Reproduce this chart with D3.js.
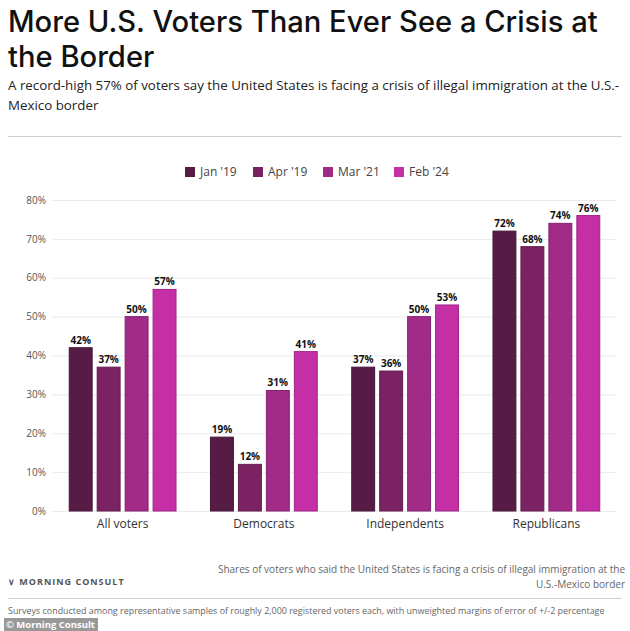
<!DOCTYPE html>
<html>
<head>
<meta charset="utf-8">
<script src="https://cdn.jsdelivr.net/npm/d3@7"></script>
<style>
  body { margin: 0; background: #fff; }
  svg { display: block; font-family: "Open Sans", sans-serif; }
</style>
</head>
<body>
<div id="chart"></div>
<script>
var categories = ['All voters', 'Democrats', 'Independents', 'Republicans'];
var seriesNames = ["Jan '19", "Apr '19", "Mar '21", "Feb '24"];
var jan19 = [42, 19, 37, 72];
var apr19 = [37, 12, 36, 68];
var mar21 = [50, 31, 50, 74];
var feb24 = [57, 41, 53, 76];
var yTicks = [0, 10, 20, 30, 40, 50, 60, 70, 80];
var colors = ['#561c46', '#7b2263', '#a12b87', '#c42fa6'];

var width = 630, height = 631;
var svg = d3.select('#chart').append('svg')
  .attr('width', width)
  .attr('height', height);

// fit a text element to a target width
function fit(sel, target){
  var w = sel.node().getComputedTextLength();
  var fs = parseFloat(sel.attr('font-size'));
  sel.attr('font-size', fs * target / w);
}

// header
var t1 = svg.append('text').attr('x', 8).attr('y', 32)
  .attr('font-size', 30).attr('font-family', 'Inter, sans-serif').attr('font-weight', 500).attr('fill', '#111')
  .text('More U.S. Voters Than Ever See a Crisis at');
fit(t1, 590);
svg.append('text').attr('x', 8).attr('y', 67)
  .attr('font-size', t1.attr('font-size')).attr('font-family', 'Inter, sans-serif').attr('font-weight', 500).attr('fill', '#111')
  .text('the Border');

var s1 = svg.append('text').attr('x', 8).attr('y', 90)
  .attr('font-size', 14).attr('fill', '#222')
  .text('A record-high 57% of voters say the United States is facing a crisis of illegal immigration at the U.S.-');
fit(s1, 612);
svg.append('text').attr('x', 8).attr('y', 110)
  .attr('font-size', s1.attr('font-size')).attr('fill', '#222')
  .text('Mexico border');

svg.append('line').attr('x1', 8).attr('x2', 622).attr('y1', 136.5).attr('y2', 136.5)
  .attr('stroke', '#d0d0d0');

// legend
var legendX = [185, 253, 323, 394];
var legend = svg.append('g');
seriesNames.forEach(function(name, i){
  legend.append('rect').attr('x', legendX[i]).attr('y', 167)
    .attr('width', 10).attr('height', 10).attr('fill', colors[i]);
  legend.append('text').attr('x', legendX[i] + 15).attr('y', 176)
    .attr('font-size', 12).attr('fill', '#444').text(name);
});

// scales
var margin = { left: 52, right: 617, top: 200, bottom: 511 };
var x0 = d3.scaleBand().domain(categories)
  .range([margin.left, margin.right])
  .paddingInner(0.244).paddingOuter(0.122);
var x1 = d3.scaleBand().domain(seriesNames)
  .range([0, x0.bandwidth()])
  .paddingInner(0.18).paddingOuter(0);
var y = d3.scaleLinear().domain([0, 80]).range([margin.bottom, margin.top]);

// grid
var yAxis = d3.axisLeft(y).tickValues(yTicks)
  .tickFormat(function(d){ return d + '%'; })
  .tickSize(-(margin.right - margin.left)).tickPadding(6);
var gy = svg.append('g').attr('transform', 'translate(' + margin.left + ',0)').call(yAxis);
gy.select('.domain').remove();
gy.selectAll('.tick line').attr('stroke', '#ebebeb');
gy.selectAll('.tick text').attr('font-size', 10).attr('fill', '#555')
  .attr('font-family', '"Open Sans", sans-serif');

// bars
var series = [jan19, apr19, mar21, feb24];
var rows = categories.map(function(c, ci){
  return seriesNames.map(function(s, si){ return { cat: c, name: s, i: si, value: series[si][ci] }; });
});

var groups = svg.selectAll('.group').data(rows).enter().append('g')
  .attr('class', 'group')
  .attr('transform', function(d){ return 'translate(' + x0(d[0].cat) + ',0)'; });

groups.selectAll('rect').data(function(d){ return d; }).enter().append('rect')
  .attr('x', function(d){ return x1(d.name); })
  .attr('y', function(d){ return y(d.value); })
  .attr('width', x1.bandwidth())
  .attr('height', function(d){ return y(0) - y(d.value); })
  .attr('fill', function(d){ return colors[d.i]; })
  .attr('stroke', function(d){ return d3.color(colors[d.i]).darker(0.6); })
  .attr('stroke-width', 1);

groups.selectAll('.val').data(function(d){ return d; }).enter().append('text')
  .attr('class', 'val')
  .attr('x', function(d){ return x1(d.name) + x1.bandwidth() / 2; })
  .attr('y', function(d){ return y(d.value) - 4; })
  .attr('text-anchor', 'middle')
  .attr('font-size', 10).attr('font-weight', 'bold').attr('fill', '#111')
  .text(function(d){ return d.value + '%'; });

// category labels
svg.selectAll('.cat').data(categories).enter().append('text')
  .attr('class', 'cat')
  .attr('x', function(d){ return x0(d) + x0.bandwidth() / 2; })
  .attr('y', 528)
  .attr('text-anchor', 'middle')
  .attr('font-size', 12).attr('fill', '#333')
  .text(function(d){ return d; });

// footer
svg.append('text').attr('x', 8).attr('y', 585)
  .attr('font-size', 9).attr('font-weight', 'bold').attr('fill', '#555')
  .attr('letter-spacing', 1)
  .text('\u2228 MORNING CONSULT');

svg.append('text').attr('x', 625).attr('y', 573).attr('text-anchor', 'end')
  .attr('font-size', 10).attr('fill', '#666')
  .text('Shares of voters who said the United States is facing a crisis of illegal immigration at the');
svg.append('text').attr('x', 625).attr('y', 588).attr('text-anchor', 'end')
  .attr('font-size', 10).attr('fill', '#666')
  .text('U.S.-Mexico border');

svg.append('line').attr('x1', 8).attr('x2', 622).attr('y1', 598.5).attr('y2', 598.5)
  .attr('stroke', '#d0d0d0');

var f1 = svg.append('text').attr('x', 8).attr('y', 614)
  .attr('font-size', 10).attr('fill', '#666')
  .text('Surveys conducted among representative samples of roughly 2,000 registered voters each, with unweighted margins of error of +/-2 percentage');
fit(f1, 597);

svg.append('rect').attr('x', 4).attr('y', 618).attr('width', 94).attr('height', 13)
  .attr('fill', '#999');
var cr = svg.append('text').attr('x', 6).attr('y', 628)
  .attr('font-size', 11).attr('font-weight', 'bold').attr('fill', '#fff')
  .text('\u00a9 Morning Consult');
fit(cr, 89);
</script>
</body>
</html>
